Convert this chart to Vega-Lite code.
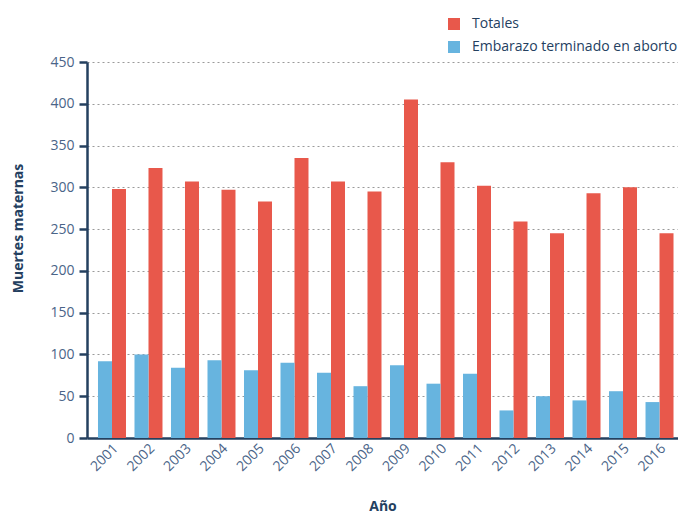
{
  "$schema": "https://vega.github.io/schema/vega-lite/v6.json",
  "width": 591,
  "height": 376,
  "autosize": {"type": "none"},
  "padding": {"left": 87, "top": 62, "right": 0, "bottom": 78},
  "background": "white",
  "config": {
    "view": {"stroke": null},
    "font": "Open Sans"
  },
  "data": {
    "values": [
      {"anio": "2001", "serie": "Totales", "muertes": 298},
      {"anio": "2001", "serie": "Embarazo terminado en aborto", "muertes": 92},
      {"anio": "2002", "serie": "Totales", "muertes": 323},
      {"anio": "2002", "serie": "Embarazo terminado en aborto", "muertes": 100},
      {"anio": "2003", "serie": "Totales", "muertes": 307},
      {"anio": "2003", "serie": "Embarazo terminado en aborto", "muertes": 84},
      {"anio": "2004", "serie": "Totales", "muertes": 297},
      {"anio": "2004", "serie": "Embarazo terminado en aborto", "muertes": 93},
      {"anio": "2005", "serie": "Totales", "muertes": 283},
      {"anio": "2005", "serie": "Embarazo terminado en aborto", "muertes": 81},
      {"anio": "2006", "serie": "Totales", "muertes": 335},
      {"anio": "2006", "serie": "Embarazo terminado en aborto", "muertes": 90},
      {"anio": "2007", "serie": "Totales", "muertes": 307},
      {"anio": "2007", "serie": "Embarazo terminado en aborto", "muertes": 78},
      {"anio": "2008", "serie": "Totales", "muertes": 295},
      {"anio": "2008", "serie": "Embarazo terminado en aborto", "muertes": 62},
      {"anio": "2009", "serie": "Totales", "muertes": 405},
      {"anio": "2009", "serie": "Embarazo terminado en aborto", "muertes": 87},
      {"anio": "2010", "serie": "Totales", "muertes": 330},
      {"anio": "2010", "serie": "Embarazo terminado en aborto", "muertes": 65},
      {"anio": "2011", "serie": "Totales", "muertes": 302},
      {"anio": "2011", "serie": "Embarazo terminado en aborto", "muertes": 77},
      {"anio": "2012", "serie": "Totales", "muertes": 259},
      {"anio": "2012", "serie": "Embarazo terminado en aborto", "muertes": 33},
      {"anio": "2013", "serie": "Totales", "muertes": 245},
      {"anio": "2013", "serie": "Embarazo terminado en aborto", "muertes": 50},
      {"anio": "2014", "serie": "Totales", "muertes": 293},
      {"anio": "2014", "serie": "Embarazo terminado en aborto", "muertes": 45},
      {"anio": "2015", "serie": "Totales", "muertes": 300},
      {"anio": "2015", "serie": "Embarazo terminado en aborto", "muertes": 56},
      {"anio": "2016", "serie": "Totales", "muertes": 245},
      {"anio": "2016", "serie": "Embarazo terminado en aborto", "muertes": 43}
    ]
  },
  "mark": {"type": "bar"},
  "encoding": {
    "x": {
      "field": "anio",
      "type": "nominal",
      "title": "Año",
      "scale": {"paddingInner": 0.233, "paddingOuter": 0.212, "align": 0.71},
      "axis": {
        "labelAngle": -45,
        "labelAlign": "right",
        "labelBaseline": "middle",
        "labelFontSize": 14,
        "labelColor": "#4A6488",
        "labelPadding": 8,
        "labelOffset": 4,
        "ticks": false,
        "domainColor": "#24405F",
        "domainWidth": 2.5,
        "titleFontSize": 14,
        "titleFontWeight": "bold",
        "titleColor": "#24405F",
        "titlePadding": 26
      }
    },
    "xOffset": {
      "field": "serie",
      "scale": {"domain": ["Embarazo terminado en aborto", "Totales"]}
    },
    "y": {
      "field": "muertes",
      "type": "quantitative",
      "title": "Muertes maternas",
      "scale": {"domain": [0, 450], "nice": false},
      "axis": {
        "values": [0, 50, 100, 150, 200, 250, 300, 350, 400, 450],
        "labelFontSize": 14,
        "labelColor": "#4A6488",
        "labelPadding": 5,
        "tickSize": 8,
        "tickColor": "#24405F",
        "tickWidth": 2.5,
        "domainColor": "#24405F",
        "domainWidth": 2.5,
        "grid": true,
        "gridColor": "#9A9A9A",
        "gridDash": [2, 3],
        "gridWidth": 1,
        "titleFontSize": 14,
        "titleFontWeight": "bold",
        "titleColor": "#24405F",
        "titlePadding": 24,
        "titleY": 166
      }
    },
    "color": {
      "field": "serie",
      "type": "nominal",
      "scale": {
        "domain": ["Totales", "Embarazo terminado en aborto"],
        "range": ["#E8584B", "#67B4DF"]
      },
      "legend": {
        "title": null,
        "orient": "none",
        "legendX": 360,
        "legendY": -45,
        "symbolType": "square",
        "symbolSize": 144,
        "symbolStrokeWidth": 0,
        "labelFontSize": 14,
        "labelColor": "#24405F",
        "labelOffset": 11,
        "labelLimit": 400,
        "rowPadding": 9,
        "padding": 0
      }
    }
  }
}
